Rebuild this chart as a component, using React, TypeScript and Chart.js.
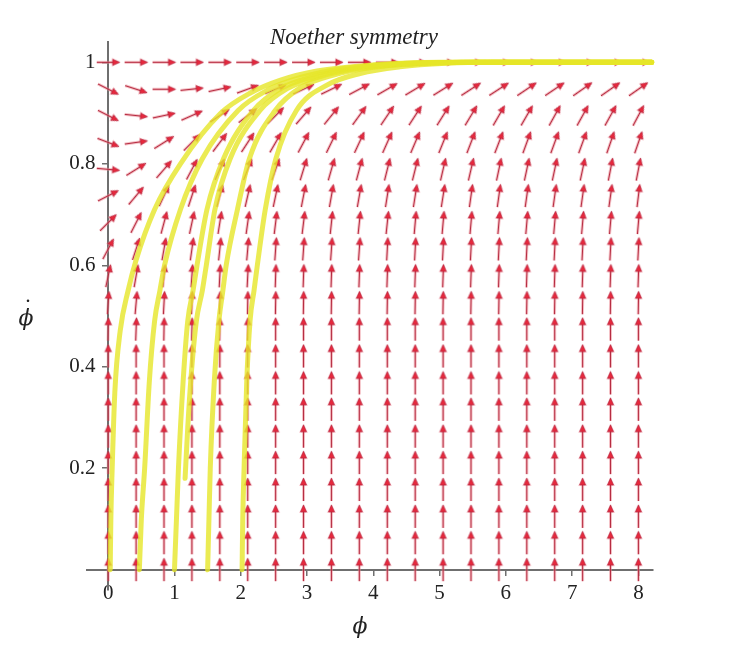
import React, { useEffect, useRef } from "react";
import { Chart, registerables } from "chart.js";

Chart.register(...registerables);

// ---------- text ----------
const TITLE = "Noether symmetry";
const X_LABEL = "\u03D5";
const Y_LABEL = "\u03D5";
const Y_LABEL_DOT = "\u02D9";

// ---------- axes ----------
const X_TICKS = [0, 1, 2, 3, 4, 5, 6, 7, 8];
const Y_TICKS = [0.2, 0.4, 0.6, 0.8, 1];

// ---------- direction field grid (20 x 20) ----------
const GRID_X = [0, 0.421, 0.842, 1.263, 1.684, 2.105, 2.526, 2.947, 3.368, 3.789,
  4.211, 4.632, 5.053, 5.474, 5.895, 6.316, 6.737, 7.158, 7.579, 8];
const GRID_Y = [1, 0.947, 0.895, 0.842, 0.789, 0.737, 0.684, 0.632, 0.579, 0.526,
  0.474, 0.421, 0.368, 0.316, 0.263, 0.211, 0.158, 0.105, 0.053, 0];

// arrow directions (degrees, counter-clockwise from +phi), one row per GRID_Y value
const ANG_Y1000 = [0, 0, 0, 0, 0, 0, 0, 0, 0, 0, 0, 0, 0, 0, 0, 0, 0, 0, 0, 0];
const ANG_Y0947 = [-27, -18, 0, 6, 12, 20, 23, 25, 26, 28, 30, 31, 32, 33, 33, 34, 34, 35, 35, 35];
const ANG_Y0895 = [-27, -6, 12, 24, 34, 38, 45, 49, 51, 54, 56, 57, 58, 59, 60, 60, 61, 61, 61, 62];
const ANG_Y0842 = [-21, 8, 32, 45, 53, 57, 60, 62, 64, 65, 66, 67, 68, 69, 69, 70, 70, 70, 71, 71];
const ANG_Y0789 = [-5, 32, 49, 62, 66, 69, 71, 73, 74, 75, 76, 76, 77, 77, 78, 78, 78, 78, 79, 79];
const ANG_Y0737 = [27, 50, 65, 72, 75, 77, 78, 79, 80, 80, 81, 81, 81, 82, 82, 82, 82, 82, 82, 83];
const ANG_Y0684 = [45, 63, 75, 78, 81, 82, 83, 83, 84, 84, 84, 85, 85, 85, 85, 85, 85, 85, 85, 85];
const ANG_Y0632 = [62, 72, 80, 82, 84, 85, 86, 86, 86, 86, 87, 87, 87, 87, 87, 87, 87, 87, 87, 87];
const ANG_Y0579 = [78, 80, 84, 86, 87, 87, 88, 88, 88, 88, 88, 88, 88, 88, 88, 88, 88, 88, 88, 88];
const ANG_Y0526 = [86, 85, 87, 88, 88, 89, 89, 89, 89, 89, 89, 89, 89, 89, 89, 89, 89, 89, 89, 89];
const ANG_Y0474 = [89, 88, 89, 89, 89, 89, 90, 90, 90, 90, 90, 90, 90, 90, 90, 90, 90, 90, 90, 90];
const ANG_VERTICAL = [90, 90, 90, 90, 90, 90, 90, 90, 90, 90, 90, 90, 90, 90, 90, 90, 90, 90, 90, 90];

const ANGLE_ROWS = [
  ANG_Y1000, ANG_Y0947, ANG_Y0895, ANG_Y0842, ANG_Y0789, ANG_Y0737, ANG_Y0684,
  ANG_Y0632, ANG_Y0579, ANG_Y0526, ANG_Y0474,
  ANG_VERTICAL, ANG_VERTICAL, ANG_VERTICAL, ANG_VERTICAL, ANG_VERTICAL,
  ANG_VERTICAL, ANG_VERTICAL, ANG_VERTICAL, ANG_VERTICAL,
];

// ---------- trajectories (phi, phi-dot) ----------
const TRAJ_A = [[0.03, 0], [0.04, 0.1], [0.06, 0.2], [0.1, 0.35], [0.18, 0.47], [0.3, 0.55], [0.42, 0.61],
  [0.7, 0.71], [1.09, 0.8], [1.7, 0.9], [2.15, 0.94], [2.6, 0.965], [3.15, 0.983], [4.0, 0.995], [5.0, 1], [8.2, 1]];
const TRAJ_B = [[0.47, 0], [0.5, 0.1], [0.55, 0.2], [0.62, 0.37], [0.7, 0.49], [0.78, 0.55], [0.85, 0.6],
  [1.09, 0.71], [1.42, 0.81], [1.96, 0.905], [2.4, 0.945], [2.9, 0.97], [3.5, 0.987], [4.4, 0.997], [5.3, 1], [8.2, 1]];
const TRAJ_C = [[1.0, 0], [1.03, 0.1], [1.06, 0.2], [1.13, 0.37], [1.2, 0.49], [1.28, 0.55], [1.34, 0.6],
  [1.49, 0.71], [1.74, 0.81], [2.19, 0.905], [2.6, 0.948], [3.1, 0.972], [3.7, 0.988], [4.5, 0.997], [5.4, 1], [8.2, 1]];
const TRAJ_D = [[1.16, 0.18], [1.2, 0.28], [1.25, 0.38], [1.33, 0.49], [1.42, 0.55], [1.48, 0.6],
  [1.61, 0.71], [1.84, 0.81], [2.29, 0.905], [2.7, 0.948], [3.2, 0.972], [3.8, 0.988], [4.6, 0.997], [5.5, 1], [8.2, 1]];
const TRAJ_E = [[1.5, 0], [1.52, 0.1], [1.54, 0.2], [1.6, 0.37], [1.67, 0.49], [1.73, 0.55], [1.78, 0.6],
  [1.95, 0.71], [2.13, 0.81], [2.52, 0.905], [2.9, 0.95], [3.4, 0.975], [4.0, 0.99], [4.8, 0.998], [5.6, 1], [8.2, 1]];
const TRAJ_F = [[2.02, 0], [2.03, 0.1], [2.05, 0.2], [2.09, 0.37], [2.14, 0.49], [2.2, 0.55], [2.25, 0.6],
  [2.37, 0.71], [2.53, 0.81], [2.84, 0.905], [3.3, 0.955], [3.8, 0.978], [4.4, 0.991], [5.1, 0.998], [5.8, 1], [8.2, 1]];
const TRAJECTORIES = [TRAJ_A, TRAJ_B, TRAJ_C, TRAJ_D, TRAJ_E, TRAJ_F];

// ---------- style ----------
const SERIF = '"Liberation Serif", "Times New Roman", serif';
const AXIS_COLOR = "#6f6f6f";
const TEXT_COLOR = "#222";

function makeArrowImage(): HTMLCanvasElement {
  const c = document.createElement("canvas");
  const w = 25, h = 11;
  c.width = w; c.height = h;
  const g = c.getContext("2d")!;
  const cy = h / 2;
  // soft halo
  g.strokeStyle = "rgba(245,150,160,0.45)";
  g.lineWidth = 3;
  g.beginPath(); g.moveTo(1, cy); g.lineTo(w - 3, cy); g.stroke();
  g.fillStyle = "rgba(245,150,160,0.5)";
  g.beginPath(); g.moveTo(w, cy); g.lineTo(w - 9, cy - 4.5); g.lineTo(w - 9, cy + 4.5); g.closePath(); g.fill();
  // shaft
  g.strokeStyle = "#b52a40";
  g.lineWidth = 1.2;
  g.beginPath(); g.moveTo(1, cy); g.lineTo(w - 5, cy); g.stroke();
  // head
  g.fillStyle = "#e8283c";
  g.strokeStyle = "#a8203a";
  g.lineWidth = 0.6;
  g.beginPath(); g.moveTo(w - 1, cy); g.lineTo(w - 8, cy - 3); g.lineTo(w - 8, cy + 3); g.closePath();
  g.fill(); g.stroke();
  return c;
}

const textPlugin = {
  id: "phaseText",
  afterDraw(chart: any) {
    const { ctx, chartArea } = chart;
    ctx.save();
    ctx.fillStyle = TEXT_COLOR;
    ctx.textAlign = "center";
    ctx.textBaseline = "alphabetic";
    ctx.font = `italic 23px ${SERIF}`;
    ctx.fillText(TITLE, (chartArea.left + chartArea.right) / 2 - 16, 44);
    ctx.font = `italic 22px "DejaVu Serif", ${SERIF}`;
    ctx.textBaseline = "middle";
    ctx.fillText(X_LABEL, 360, 627);
    ctx.fillText(Y_LABEL, 26, 319);
    ctx.font = `22px "DejaVu Serif", ${SERIF}`;
    ctx.fillText(Y_LABEL_DOT, 28, 311);
    ctx.restore();
  },
};

export default function App() {
  const ref = useRef<HTMLCanvasElement | null>(null);

  useEffect(() => {
    if (!ref.current) return;
    const arrowImg = makeArrowImage();

    const arrowData: any[] = [];
    GRID_Y.forEach((y, j) => {
      GRID_X.forEach((x, i) => {
        arrowData.push({ x, y, a: ANGLE_ROWS[j][i] });
      });
    });

    const trajDatasets = TRAJECTORIES.map((t) => ({
      type: "line" as const,
      data: t.map(([x, y]) => ({ x, y })),
      borderColor: "rgba(230,230,40,0.8)",
      borderWidth: 5,
      pointRadius: 0,
      showLine: true,
      fill: false,
      cubicInterpolationMode: "monotone" as const,
      borderCapStyle: "round" as const,
      borderJoinStyle: "round" as const,
      order: 1,
      clip: false as any,
    }));

    const tickFont = { family: SERIF, size: 21 };
    const fmt = (v: any) => String(Number(v));

    const chart = new Chart(ref.current, {
      type: "scatter",
      data: {
        datasets: [
          ...trajDatasets,
          {
            type: "scatter",
            data: arrowData,
            pointStyle: arrowImg as any,
            pointRadius: 3,
            rotation: (c: any) => -(c.raw ? c.raw.a : 0),
            order: 2,
            clip: false as any,
          } as any,
        ],
      },
      options: {
        animation: false,
        responsive: false,
        events: [],
        layout: { padding: { left: 87, right: 81, top: 42, bottom: 64 } },
        plugins: { legend: { display: false }, tooltip: { enabled: false }, title: { display: false } },
        scales: {
          x: {
            type: "linear",
            min: -0.32,
            max: 8.22,
            position: { y: 0 } as any,
            afterBuildTicks: (s: any) => { s.ticks = X_TICKS.map((v) => ({ value: v })); },
            grid: { display: true, drawOnChartArea: false, drawTicks: true, tickLength: 5, color: AXIS_COLOR, lineWidth: 1.5 },
            border: { display: true, color: AXIS_COLOR, width: 2 },
            ticks: { font: tickFont, color: TEXT_COLOR, padding: 6, maxRotation: 0, autoSkip: false, callback: fmt },
          },
          y: {
            type: "linear",
            min: -0.04,
            max: 1.04,
            position: { x: 0 } as any,
            afterBuildTicks: (s: any) => { s.ticks = Y_TICKS.map((v) => ({ value: v })); },
            grid: { display: true, drawOnChartArea: false, drawTicks: true, tickLength: 5, color: AXIS_COLOR, lineWidth: 1.5 },
            border: { display: true, color: AXIS_COLOR, width: 2 },
            ticks: { display: false },
          },
          yLabels: {
            type: "linear",
            axis: "y",
            min: -0.04,
            max: 1.04,
            position: { x: -0.19 } as any,
            afterBuildTicks: (s: any) => { s.ticks = Y_TICKS.map((v) => ({ value: v })); },
            grid: { display: false },
            border: { display: false },
            ticks: { font: tickFont, color: TEXT_COLOR, padding: 0, autoSkip: false, callback: fmt },
          },
        },
      },
      plugins: [textPlugin],
    } as any);

    return () => chart.destroy();
  }, []);

  return (
    <div style={{ position: "fixed", left: 0, top: 0, width: 734, height: 654, background: "#fff" }}>
      <canvas ref={ref} width={734} height={654} />
    </div>
  );
}
